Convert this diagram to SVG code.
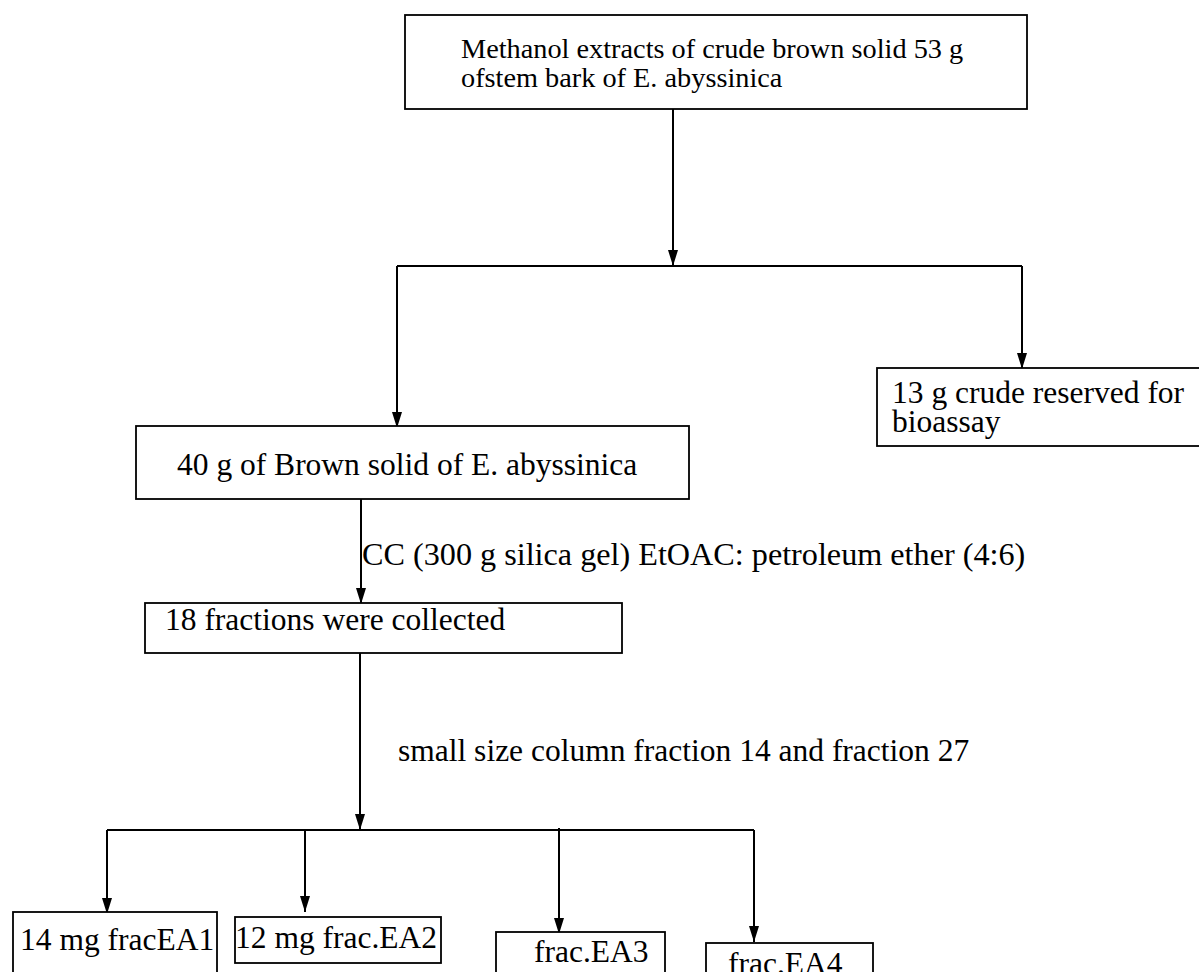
<svg xmlns="http://www.w3.org/2000/svg" width="1199" height="972" viewBox="0 0 1199 972">
<style>
.box{fill:#fff;stroke:#000;stroke-width:1.8}
.t{font-family:"Liberation Serif","Times New Roman",serif;font-size:31.5px;fill:#000}
.t28{font-family:"Liberation Serif","Times New Roman",serif;font-size:28.3px;fill:#000}
.c{fill:none;stroke:#000;stroke-width:2}
</style>
<defs>
<marker id="arr" markerUnits="userSpaceOnUse" markerWidth="18" markerHeight="10" refX="16" refY="5" orient="auto">
<path d="M0,0 L16,5 L0,10 Z" fill="#000"/>
</marker>
</defs>
<rect width="1199" height="972" fill="#fff"/>
<g id="connectors">
<line class="c" x1="673" y1="109" x2="673" y2="266" marker-end="url(#arr)"/>
<polyline class="c" points="397,266 1022,266"/>
<line class="c" x1="397" y1="266" x2="397" y2="428" marker-end="url(#arr)"/>
<line class="c" x1="1022" y1="266" x2="1022" y2="369" marker-end="url(#arr)"/>
<line class="c" x1="361" y1="499" x2="361" y2="604" marker-end="url(#arr)"/>
<line class="c" x1="360" y1="653" x2="360" y2="830" marker-end="url(#arr)"/>
<polyline class="c" points="107,830 754,830"/>
<line class="c" x1="107" y1="830" x2="107" y2="914" marker-end="url(#arr)"/>
<line class="c" x1="305" y1="830" x2="305" y2="912" marker-end="url(#arr)"/>
<line class="c" x1="559" y1="828" x2="559" y2="934" marker-end="url(#arr)"/>
<line class="c" x1="754" y1="830" x2="754" y2="942" marker-end="url(#arr)"/>
</g>
<g id="label-cc"><text class="t" x="362" y="565" style="font-size:32.2px">CC (300 g silica gel) EtOAC: petroleum ether (4:6)</text></g>
<g id="label-small"><text class="t" x="398" y="761">small size column fraction 14 and fraction 27</text></g>
<g id="node-methanol">
<rect class="box" x="405" y="15" width="622" height="94"/>
<text class="t28" x="461" y="58">Methanol extracts of crude brown solid 53 g</text>
<text class="t28" x="461" y="87">ofstem bark of  E. abyssinica</text>
</g>
<g id="node-crude">
<rect class="box" x="877" y="368" width="340" height="78"/>
<text class="t" x="892" y="403">13 g crude reserved for</text>
<text class="t" x="892" y="432">bioassay</text>
</g>
<g id="node-brown">
<rect class="box" x="136" y="426" width="553" height="73"/>
<text class="t" x="177" y="475">40 g of Brown solid of E. abyssinica</text>
</g>
<g id="node-fractions">
<rect class="box" x="145" y="603" width="477" height="50"/>
<text class="t" x="165" y="630">18 fractions were collected</text>
</g>
<g id="node-ea1">
<rect class="box" x="13" y="912" width="204" height="80"/>
<text class="t" x="20" y="950">14 mg fracEA1</text>
</g>
<g id="node-ea2">
<rect class="box" x="235" y="917" width="206" height="46"/>
<text class="t" x="235" y="948">12 mg frac.EA2</text>
</g>
<g id="node-ea3">
<rect class="box" x="496" y="932" width="169" height="60"/>
<text class="t" x="534" y="962">frac.EA3</text>
</g>
<g id="node-ea4">
<rect class="box" x="706" y="943" width="167" height="60"/>
<text class="t" x="728" y="974">frac.EA4</text>
</g>
</svg>
